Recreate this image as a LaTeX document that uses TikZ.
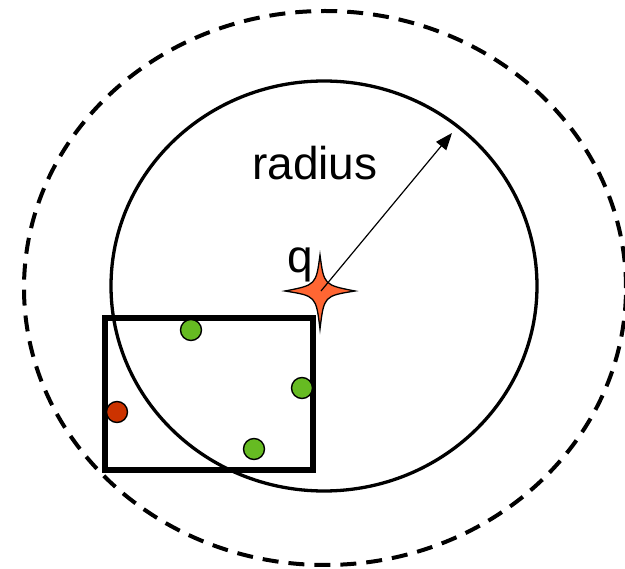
\documentclass[tikz,border=0pt]{standalone}
\usepackage{fontspec}
\setmainfont{Liberation Sans}
\usetikzlibrary{arrows.meta}
\definecolor{starorange}{RGB}{255,102,51}
\definecolor{hitgreen}{RGB}{102,187,34}
\definecolor{missred}{RGB}{204,51,0}
\tikzset{
  point/.style={circle,draw,line width=1.4pt,minimum size=21pt,inner sep=0pt},
  lbl/.style={anchor=base west,inner sep=0pt,font=\fontsize{46}{55}\selectfont}
}
\begin{document}
\begin{tikzpicture}[x=1pt,y=-1pt]
  \useasboundingbox (0,0) rectangle (625,569);
  % the two ranges
  \draw[line width=4pt,dash pattern=on 16pt off 10pt] (325,288) ellipse [x radius=301pt, y radius=277pt];
  \draw[line width=3.3pt] (324,286) ellipse [x radius=213pt, y radius=205pt];
  % query box
  \draw[line width=5.5pt] (105,318) rectangle (313,470);
  % points
  \node[point,fill=hitgreen] (p1) at (191,330) {};
  \node[point,fill=hitgreen] (p2) at (302,388) {};
  \node[point,fill=hitgreen] (p3) at (254,449) {};
  \node[point,fill=missred] (p4) at (117,412) {};
  % query point
  \coordinate (q) at (321,291);
  \draw[line width=1.3pt,fill=starorange] (320,255) .. controls (324,285) .. (355,291)
    .. controls (324,296) .. (320,329) .. controls (316,296) .. (285,291)
    .. controls (316,285) .. cycle;
  \coordinate (rtip) at (452,133);
  \draw[line width=1.2pt,-{Stealth[length=17pt,width=13pt,inset=0pt]}] (q) -- (rtip);
  \node[lbl] (qlabel) at (287,273) {q};
  \node[lbl] (rlabel) at (252,180) {radius};
\end{tikzpicture}
\end{document}
